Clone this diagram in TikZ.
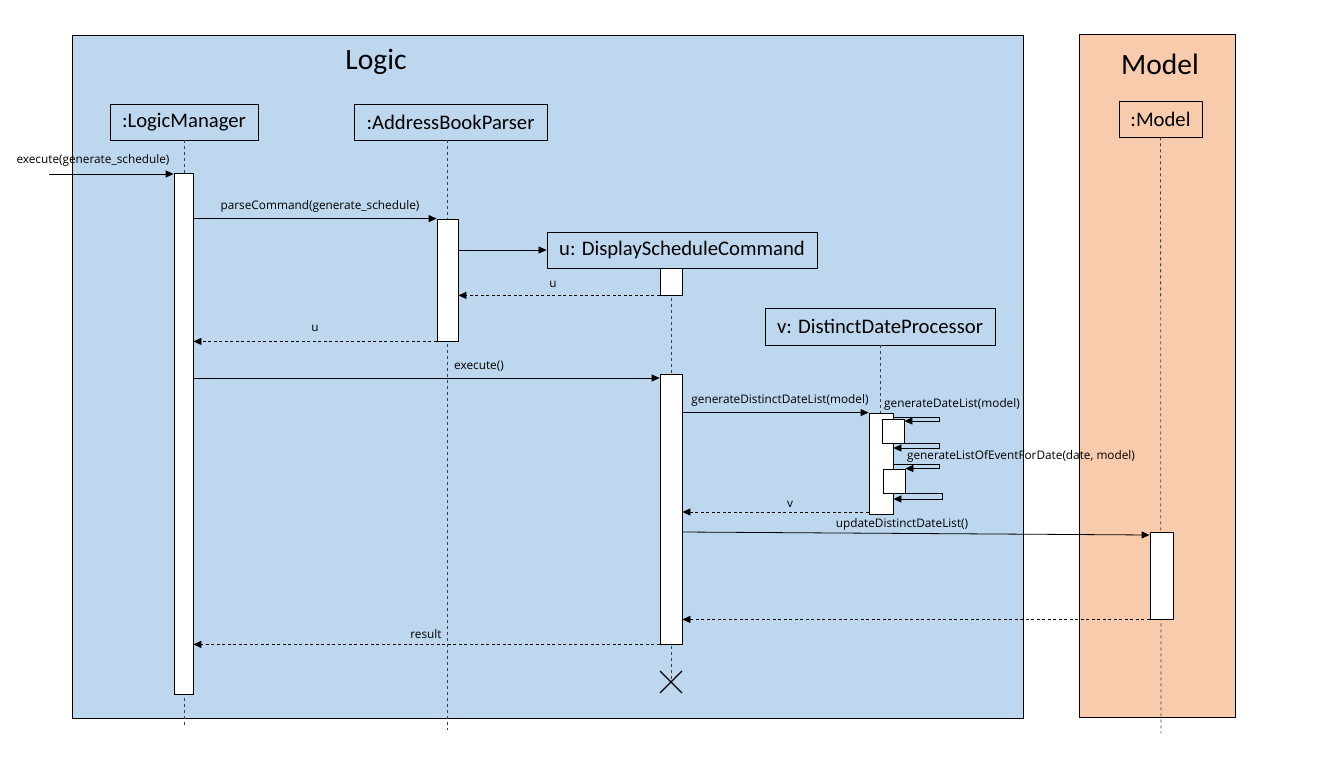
\documentclass[tikz,border=0pt]{standalone}
\usepackage{fontspec}
\setmainfont{Carlito}
\newfontfamily\smallfont{Open Sans}
\usetikzlibrary{arrows.meta,calc}
\definecolor{logicblue}{HTML}{BDD7EE}
\definecolor{modelorange}{HTML}{F8CBAD}
\begin{document}
\begin{tikzpicture}[x=1pt,y=-1pt,
  frame/.style={draw=black, line width=0.9pt},
  obj/.style={draw=black, line width=0.9pt, inner sep=0pt, font=\fontsize{20.7}{23}\selectfont},
  act/.style={draw=black, fill=white, line width=0.8pt, inner sep=0pt, minimum width=19pt},
  life/.style={draw=black!75, dash pattern=on 3pt off 3pt, line width=0.8pt},
  msg/.style={draw=black, line width=0.8pt, -{Triangle[length=8pt,width=7pt]}},
  ret/.style={msg, dash pattern=on 3pt off 2.5pt},
  lbl/.style={font=\smallfont\fontsize{11.8}{14}\selectfont, inner sep=0pt},
  title/.style={font=\fontsize{29.5}{32}\selectfont, inner sep=0pt, anchor=base}]
\useasboundingbox (0,0) rectangle (1325,757);
% frames
\node[frame, fill=logicblue, minimum width=951pt, minimum height=683pt, inner sep=0pt] (logicframe) at (547.5,376.5) {};
\node[frame, fill=modelorange, minimum width=156pt, minimum height=683pt, inner sep=0pt] (modelframe) at (1157,375.5) {};
\node[title] (logictitle) at (376,69.5) {Logic};
\node[title] (modeltitle) at (1160,74.5) {Model};
% objects
\node[obj, minimum width=148pt, minimum height=36pt] (lm) at (184,122) {:LogicManager};
\node[obj, minimum width=193pt, minimum height=36pt] (abp) at (450.5,122) {:AddressBookParser};
\node[obj, minimum width=270pt, minimum height=36pt] (dsc) at (682,250) {u: DisplayScheduleCommand};
\node[obj, minimum width=230pt, minimum height=37pt] (ddp) at (880,326.5) {v: DistinctDateProcessor};
\node[obj, minimum width=83pt, minimum height=36pt] (mdl) at (1160.5,119) {:Model};
% lifeline ends
\coordinate (lmend) at (184,725);
\coordinate (abpend) at (447,730);
\coordinate (mdlend) at (1161,733);
\coordinate (xc) at (671,682);
% lifelines
\draw[life] (lm.south) -- (lmend);
\draw[life] (abp.south -| 447,0) -- (abpend);
\draw[life] (671,268) -- (xc);
\draw[life] (ddp.south) -- (880,413);
\draw[life] (mdl.south) -- (mdlend);
% activations
\node[act, minimum width=19pt, minimum height=521pt] (lma) at (183.5,433.5) {};
\node[act, minimum width=21pt, minimum height=122pt] (abpa) at (447.5,280) {};
\node[act, minimum width=22pt, minimum height=27pt] (dsca1) at (671,281.5) {};
\node[act, minimum width=22pt, minimum height=270pt] (dsca2) at (671,509) {};
\node[act, minimum width=24pt, minimum height=101pt] (ddpa) at (881,463.5) {};
\node[act, minimum width=22pt, minimum height=24pt] (nest1) at (893,431) {};
\node[act, minimum width=22pt, minimum height=24pt] (nest2) at (894,481) {};
\node[act, minimum width=23pt, minimum height=87pt] (mdla) at (1161.5,575.5) {};
% destroy mark
\draw[line width=1.2pt] ($(xc)+(-11,-11)$) -- ($(xc)+(11,11)$);
\draw[line width=1.2pt] ($(xc)+(-11,11)$) -- ($(xc)+(11,-11)$);
% messages
\coordinate (found) at (49,174);
\draw[msg] (found) -- (lma.west |- found);
\node[lbl] (l1) at (93,160.5) {execute(generate\_schedule)};
\draw[msg] (lma.east |- abpa.north) -- (abpa.north west);
\node[lbl] (l2) at (320,206.5) {parseCommand(generate\_schedule)};
\draw[msg] (abpa.east |- dsc.west) -- (dsc.west);
\draw[ret] (dsca1.south west) -- (abpa.east |- dsca1.south);
\node[lbl] (l3) at (553,284.5) {u};
\draw[ret] (abpa.south west) -- (lma.east |- abpa.south);
\node[lbl] (l4) at (315,328.5) {u};
\draw[msg] (lma.east |- 0,378) -- (dsca2.west |- 0,378);
\node[lbl] (l5) at (479,366.5) {execute()};
\draw[msg] (dsca2.east |- ddpa.north) -- (ddpa.north west);
\node[lbl] (l6) at (780,400.5) {generateDistinctDateList(model)};
% self calls
\draw[msg] (ddpa.east |- 0,417) -- (939,417) -- (939,421) -- (nest1.east |- 0,421);
\node[lbl] (l7) at (952,404.5) {generateDateList(model)};
\draw[msg] (nest1.east |- 0,443) -- (939,443) -- (939,448) -- (ddpa.east |- 0,448);
\draw[msg] (ddpa.east |- 0,464) -- (939,464) -- (939,468.5) -- (nest2.east |- 0,468.5);
\node[lbl] (l8) at (1021,456.5) {generateListOfEventForDate(date, model)};
\draw[msg] (nest2.east |- 0,493) -- (942,493) -- (942,499) -- (ddpa.east |- 0,499);
\draw[ret] (ddpa.west |- 0,512) -- (dsca2.east |- 0,512);
\node[lbl] (l9) at (790,504.5) {v};
\draw[msg] (dsca2.east |- 0,532) -- (mdla.west |- 0,535);
\node[lbl] (l10) at (902,524.5) {updateDistinctDateList()};
\draw[ret] (mdla.south west) -- (dsca2.east |- mdla.south);
\draw[ret] (dsca2.south west) -- (lma.east |- dsca2.south);
\node[lbl] (l11) at (426,634.5) {result};
\end{tikzpicture}
\end{document}
